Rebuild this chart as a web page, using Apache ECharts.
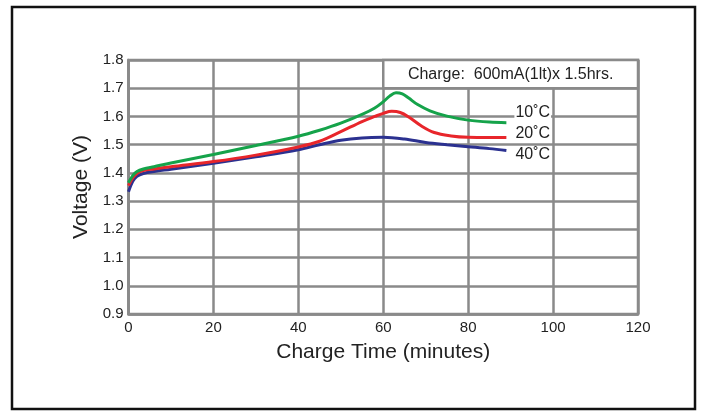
<!DOCTYPE html>
<html>
<head>
<meta charset="utf-8">
<script src="https://cdn.jsdelivr.net/npm/echarts@6/dist/echarts.min.js"></script>
<style>
html,body{margin:0;padding:0;background:#fff;}
#c{width:702px;height:413px;}
</style>
</head>
<body>
<div id="c"></div>
<script>
// ---- data ----
const xTicks = [0, 20, 40, 60, 80, 100, 120];
const yTicks = [0.9, 1.0, 1.1, 1.2, 1.3, 1.4, 1.5, 1.6, 1.7, 1.8];
const seriesNames = ['10˚C', '20˚C', '40˚C'];
const chargeNote = 'Charge:  600mA(1lt)x 1.5hrs.';

const t10 = [0, 1, 2, 3.5, 6, 10, 20, 30, 40, 45, 50, 55, 58, 60, 61.5, 63, 64.5, 66, 68, 71, 75, 80, 85, 89];
const v10 = [1.365, 1.39, 1.405, 1.414, 1.422, 1.435, 1.465, 1.497, 1.530, 1.551, 1.576, 1.607, 1.630, 1.652, 1.672, 1.684, 1.680, 1.665, 1.643, 1.620, 1.601, 1.587, 1.580, 1.578];

const t20 = [0, 1, 2, 3.5, 6, 10, 20, 30, 40, 45, 50, 55, 58, 60, 62, 64, 66, 69, 72, 76, 80, 85, 89];
const v20 = [1.355, 1.382, 1.398, 1.408, 1.414, 1.422, 1.440, 1.463, 1.492, 1.512, 1.546, 1.582, 1.600, 1.611, 1.618, 1.614, 1.598, 1.566, 1.543, 1.531, 1.526, 1.525, 1.525];

const t40 = [0, 1, 2, 3.5, 6, 10, 20, 30, 40, 45, 50, 55, 60, 65, 70, 75, 80, 85, 89];
const v40 = [1.333, 1.370, 1.388, 1.398, 1.405, 1.413, 1.434, 1.457, 1.482, 1.500, 1.516, 1.524, 1.526, 1.520, 1.508, 1.500, 1.493, 1.486, 1.479];

const pairs = (t, v) => t.map((x, i) => [x, v[i]]);

const GRID = '#8a8a8a';
const FONT = 'Liberation Sans, Arial, Helvetica, sans-serif';

function endLbl(offset) {
  return {
    show: true,
    formatter: p => p.seriesName,
    fontFamily: FONT,
    fontSize: 16,
    color: '#222',
    backgroundColor: '#fff',
    padding: [0, 1],
    distance: 8,
    offset: offset
  };
}

const chart = echarts.init(document.getElementById('c'), null, {renderer: 'canvas'});
chart.setOption({
  animation: false,
  backgroundColor: '#fff',
  graphic: [{
    type: 'rect',
    shape: {x: 12, y: 7, width: 683, height: 402},
    style: {fill: 'none', stroke: '#111', lineWidth: 2.5},
    silent: true, z: 100
  }],
  grid: {
    left: 128.5, right: 64, top: 60, bottom: 99,
    show: true, borderColor: GRID, borderWidth: 2.5, backgroundColor: 'transparent'
  },
  xAxis: {
    type: 'value', min: xTicks[0], max: xTicks[xTicks.length - 1], interval: 20,
    name: 'Charge Time (minutes)', nameLocation: 'middle', nameGap: 28,
    nameTextStyle: {fontFamily: FONT, fontSize: 21, color: '#222'},
    axisLine: {show: true, lineStyle: {color: GRID, width: 2.5}},
    axisTick: {show: false},
    axisLabel: {fontFamily: FONT, fontSize: 15, color: '#222', margin: 6},
    splitLine: {show: true, lineStyle: {color: GRID, width: 2.5}}
  },
  yAxis: {
    type: 'value', min: yTicks[0], max: yTicks[yTicks.length - 1], interval: 0.1,
    name: 'Voltage (V)', nameLocation: 'middle', nameGap: 34,
    nameTextStyle: {fontFamily: FONT, fontSize: 21, color: '#222'},
    axisLine: {show: true, lineStyle: {color: GRID, width: 2.5}},
    axisTick: {show: false},
    axisLabel: {fontFamily: FONT, fontSize: 15, color: '#222', margin: 5,
      formatter: v => v.toFixed(1)},
    splitLine: {show: true, lineStyle: {color: GRID, width: 2.5}}
  },
  series: [
    {
      name: seriesNames[0], type: 'line', data: pairs(t10, v10), smooth: 0.35,
      showSymbol: false, lineStyle: {color: '#15a34a', width: 3}, itemStyle: {color: '#15a34a'},
      endLabel: endLbl([0, -10]), z: 5,
      markArea: {
        silent: true,
        itemStyle: {color: '#fff', borderColor: GRID, borderWidth: 2.5},
        label: {show: true, position: 'inside', formatter: chargeNote,
          fontFamily: FONT, fontSize: 16, color: '#222'},
        data: [[{coord: [60, 1.7]}, {coord: [120, 1.8]}]]
      }
    },
    {
      name: seriesNames[1], type: 'line', data: pairs(t20, v20), smooth: 0.35,
      showSymbol: false, lineStyle: {color: '#e8262b', width: 3}, itemStyle: {color: '#e8262b'},
      endLabel: endLbl([0, -4]), z: 4
    },
    {
      name: seriesNames[2], type: 'line', data: pairs(t40, v40), smooth: 0.35,
      showSymbol: false, lineStyle: {color: '#2b3190', width: 3}, itemStyle: {color: '#2b3190'},
      endLabel: endLbl([0, 4]), z: 3
    }
  ]
});
</script>
</body>
</html>
